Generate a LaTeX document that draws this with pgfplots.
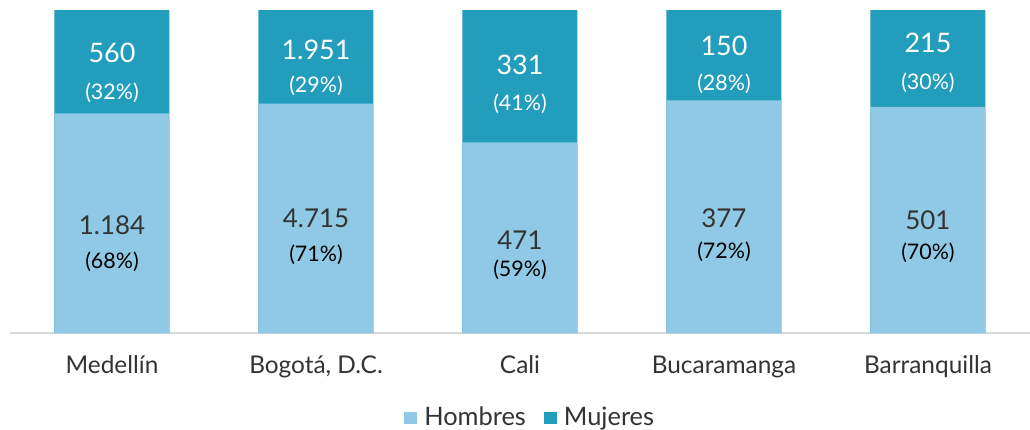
\documentclass[border=0pt]{standalone}
\usepackage{fontspec}
\setmainfont{Lato}
\usepackage{pgfplots}
\pgfplotsset{compat=1.18}
\definecolor{hom}{HTML}{8FC9E6}
\definecolor{muj}{HTML}{229EBC}
\definecolor{axgray}{HTML}{D9D9D9}
\definecolor{txt}{HTML}{333333}
\pgfplotsset{lbl/.style={draw=none, mark=none, forget plot,
    nodes near coords, point meta=explicit symbolic,
    nodes near coords align={center},
    every node near coord/.append style={anchor=center, inner sep=0pt, #1}}}
\begin{document}
\begin{tikzpicture}
\useasboundingbox (-10bp,-97bp) rectangle (1020bp,333bp);
\begin{axis}[
  at={(0,0)}, anchor=south west,
  scale only axis, width=1020bp, height=333bp,
  xmin=-0.5, xmax=4.5, ymin=0, ymax=103.1,
  axis x line*=bottom, axis y line=none,
  x axis line style={draw=axgray, line width=1.2bp, -},
  xtick={0,1,2,3,4},
  xticklabels={Medellín, {Bogotá, D.C.}, Cali, Bucaramanga, Barranquilla},
  major tick length=0pt,
  xticklabel style={anchor=base, yshift=-40bp, font=\fontsize{24.5}{28}\selectfont, text=txt},
  legend style={at={(0.51,-0.252)}, anchor=center, draw=none, legend columns=2,
    font=\fontsize{25.5}{28}\selectfont, text=txt,
    /tikz/every even column/.append style={column sep=16bp}},
  legend image code/.code={\fill[#1] (0bp,-7bp) rectangle (13bp,5bp); \path (18bp,0bp);},
  reverse legend,
  clip=false,
]
% Mujeres share = top segment (total 100), Hombres share drawn over it
\addplot[ybar, bar width=115bp, bar shift=0pt, fill=muj, draw=none]
  coordinates {(0,100) (1,100) (2,100) (3,100) (4,100)};
\addlegendentry{Mujeres}
\addplot[ybar, bar width=115bp, bar shift=0pt, fill=hom, draw=none]
  coordinates {(0,68) (1,71) (2,59) (3,72) (4,70)};
\addlegendentry{Hombres}
% labels: Hombres counts
\addplot[lbl={font=\fontsize{26}{30}\selectfont, text=txt}] table[meta=l] {
x y l
0 33.4 1.184
1 35.6 4.715
2 28.8 471
3 35.6 377
4 35.0 501
};
\addplot[lbl={font=\fontsize{21.5}{24}\selectfont, text=black}] table[meta=l] {
x y l
0 22.0 (68\%)
1 24.1 (71\%)
2 19.5 (59\%)
3 25.1 (72\%)
4 24.8 (70\%)
};
\addplot[lbl={font=\fontsize{27}{30}\selectfont, text=white}] table[meta=l] {
x y l
0 86.7 560
1 87.6 1.951
2 83.0 331
3 88.9 150
4 89.8 215
};
\addplot[lbl={font=\fontsize{21.5}{24}\selectfont, text=white}] table[meta=l] {
x y l
0 74.3 (32\%)
1 76.5 (29\%)
2 70.9 (41\%)
3 77.1 (28\%)
4 77.4 (30\%)
};
\end{axis}
\end{tikzpicture}
\end{document}
